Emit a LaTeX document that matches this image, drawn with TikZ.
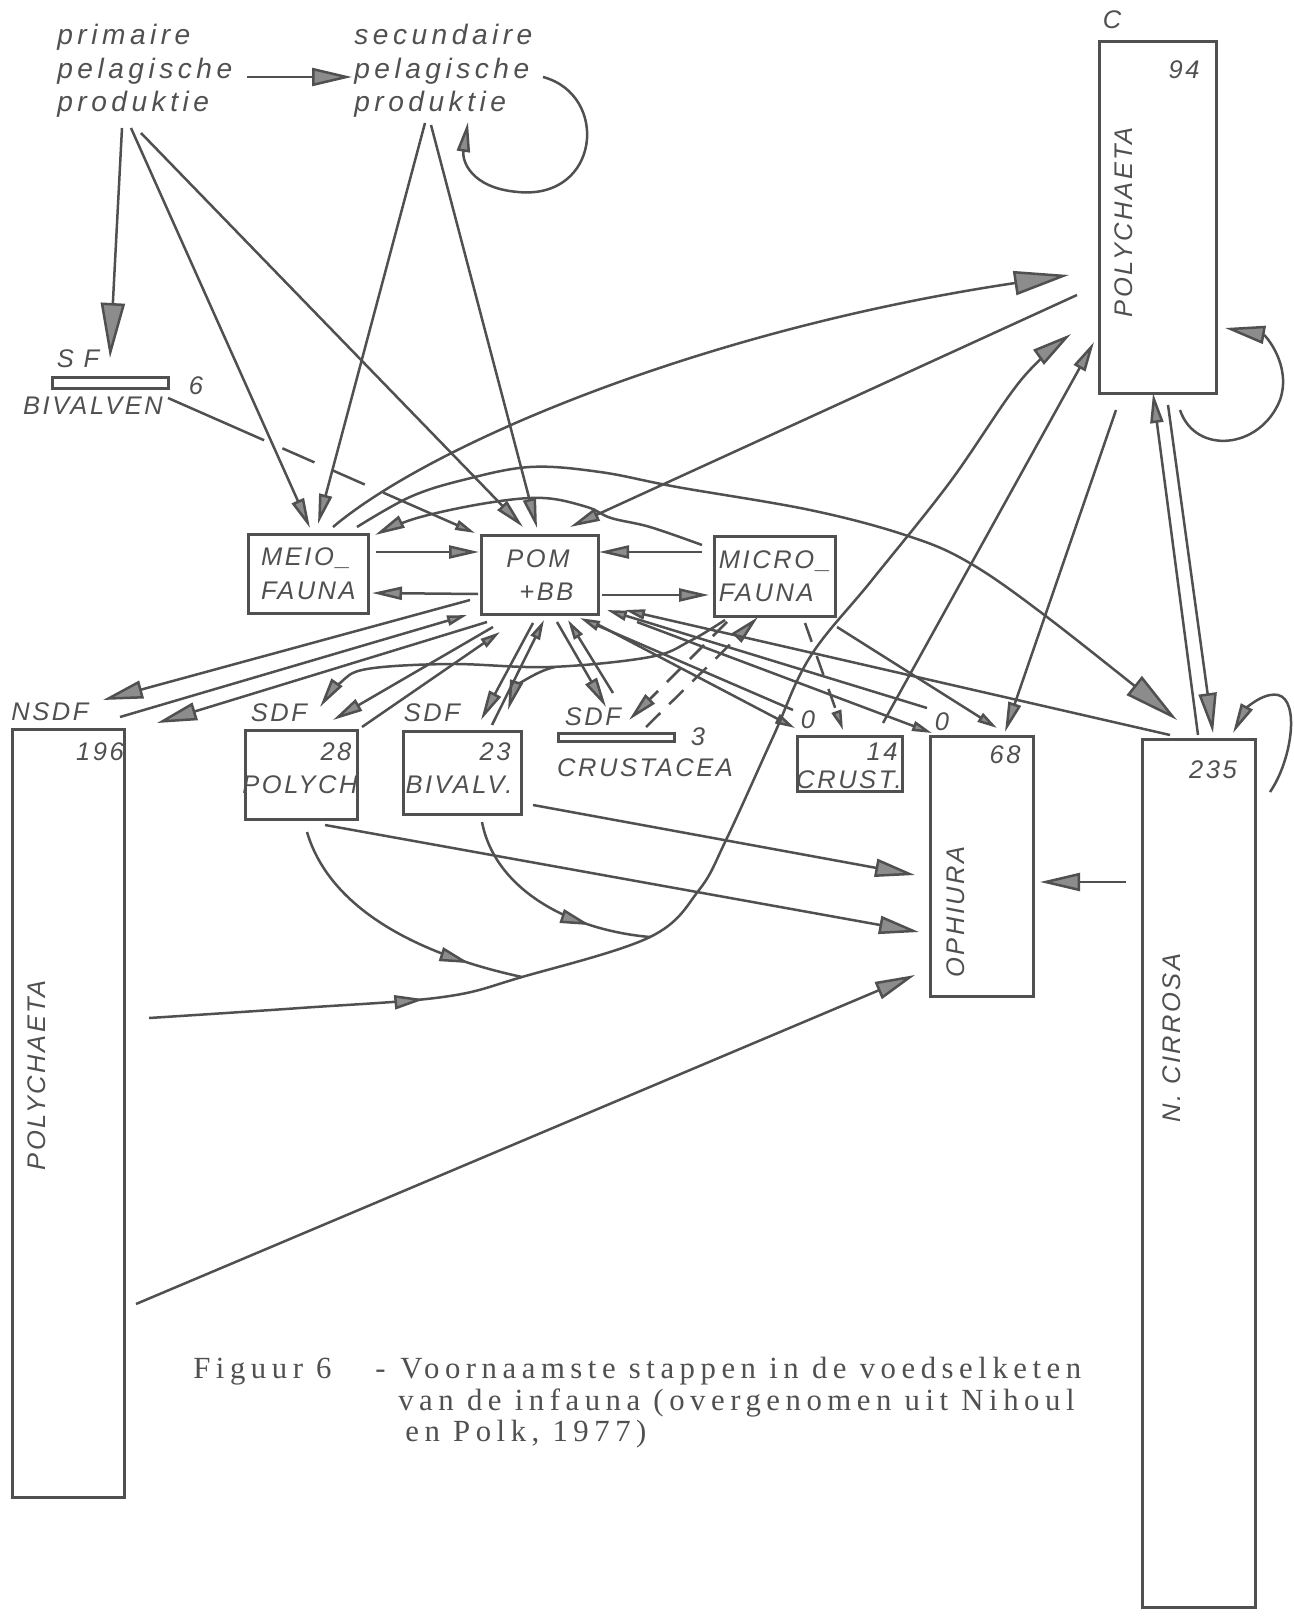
\documentclass[tikz,border=0pt]{standalone}
\usepackage{fontspec}
\newfontfamily\labfont{Liberation Sans}[LetterSpace=10]
\newfontfamily\lowfont{Liberation Sans}[LetterSpace=16]
\newfontfamily\capfont{Liberation Serif}[LetterSpace=18]
\usetikzlibrary{arrows.meta,decorations.markings}
\definecolor{ink}{RGB}{80,80,80}
\definecolor{headfill}{RGB}{140,140,140}
\tikzset{
  ln/.style={draw=ink, line width=0.5mm},
  arr/.style={ln, -{Triangle[length=6mm,width=2.6mm,fill=headfill]}},
  arrs/.style={ln, -{Triangle[length=4mm,width=2mm,fill=headfill]}},
  arrm/.style={ln, -{Triangle[length=8mm,width=3.6mm,fill=headfill]}},
  arrb/.style={ln, -{Triangle[length=11mm,width=4.8mm,fill=headfill]}},
  box/.style={draw=ink, line width=0.55mm, inner sep=0pt, anchor=north west},
  lab/.style={text=ink, inner sep=0pt, font=\labfont\itshape\fontsize{14.5}{19}\selectfont},
  low/.style={text=ink, inner sep=0pt, anchor=base west, font=\lowfont\itshape\fontsize{16}{19}\selectfont},
  captxt/.style={text=ink, inner sep=0pt, anchor=base west, font=\capfont\fontsize{17.5}{20}\selectfont},
  midarr/.style={postaction={decorate}, decoration={markings, mark=at position #1 with {\arrow{Triangle[length=6mm,width=2.8mm,fill=headfill]}}}},
}
\begin{document}
\begin{tikzpicture}[x=0.2mm,y=-0.2mm]
\fill[white] (0,0) rectangle (1294,1619);
\useasboundingbox (0,0) rectangle (1294,1619);

% ---------- top texts
\node[low] (p1) at (57,45) {primaire};
\node[low] (p2) at (57,79) {pelagische};
\node[low] (p3) at (57,112) {produktie};
\node[low] (s1) at (354,45) {secundaire};
\node[low] (s2) at (354,79) {pelagische};
\node[low] (s3) at (354,112) {produktie};

% ---------- boxes
\node[box, minimum width=23.2mm, minimum height=2.2mm] (sfbar) at (51,376) {};
\node[box, lab, align=left, minimum width=24mm, minimum height=15.8mm] (meio) at (247,533) {MEIO\_\\FAUNA};
\node[box, lab, align=left, minimum width=23.4mm, minimum height=15.8mm] (pom) at (480,534) {POM\\\hspace*{2.6mm}+BB};
\node[box, lab, align=left, minimum width=24.2mm, minimum height=16mm] (micro) at (713,535) {MICRO\_\\FAUNA};
\node[box, minimum width=23.4mm, minimum height=70.4mm] (cpoly) at (1098,40) {};
\node[box, minimum width=22.4mm, minimum height=153.6mm] (nsdf) at (11,728) {};
\node[box, minimum width=22.4mm, minimum height=17.8mm] (spoly) at (244,729) {};
\node[box, minimum width=23.6mm, minimum height=16.6mm] (sbiv) at (402,730) {};
\node[box, minimum width=23.2mm, minimum height=1.6mm] (scrus) at (557,732) {};
\node[box, minimum width=21mm, minimum height=11mm] (crust) at (796,735) {};
\node[box, minimum width=20.6mm, minimum height=52mm] (oph) at (929,735) {};
\node[box, minimum width=22.6mm, minimum height=173.6mm] (ncir) at (1141,738) {};

% ---------- labels
\node[lab] (cl) at (1112,20) {C};
\node[lab] (n94) at (1184,70) {94};
\node[lab, rotate=90] (cpt) at (1124,222) {POLYCHAETA};
\node[lab] (sfl) at (78,359) {S F};
\node[lab] (n6) at (196,386) {6};
\node[lab] (bivl) at (93,406) {BIVALVEN};
\node[lab] (nsdfl) at (50,712) {NSDF};
\node[lab] (n196) at (100,752) {196};
\node[lab, rotate=90] (npt) at (37,1075) {POLYCHAETA};
\node[lab] (sdf1) at (279,713) {SDF};
\node[lab] (n28) at (336,752) {28};
\node[lab] (polt) at (300,785) {POLYCH};
\node[lab] (sdf2) at (432,713) {SDF};
\node[lab] (n23) at (495,752) {23};
\node[lab] (bivt) at (459,785) {BIVALV.};
\node[lab] (sdf3) at (593,717) {SDF};
\node[lab] (n3) at (698,737) {3};
\node[lab] (crt) at (645,768) {CRUSTACEA};
\node[lab] (z1) at (808,720) {0};
\node[lab] (n14) at (882,752) {14};
\node[lab] (cst) at (849,780) {CRUST.};
\node[lab] (z2) at (942,722) {0};
\node[lab] (n68) at (1005,755) {68};
\node[lab, rotate=90] (opht) at (956,912) {OPHIURA};
\node[lab] (n235) at (1213,770) {235};
\node[lab, rotate=90] (ncirt) at (1172,1038) {N. CIRROSA};

% ---------- caption
\node[captxt] (fig) at (193,1378) {Figuur 6};
\node[captxt] (hy) at (375,1378) {-};
\node[captxt] (c1) at (400,1378) {Voornaamste stappen in de voedselketen};
\node[captxt] (c2) at (398,1410) {van de infauna (overgenomen uit Nihoul};
\node[captxt] (c3) at (405,1441) {en Polk, 1977)};

% ---------- junctions
\coordinate (j1) at (522,977);
\coordinate (j2) at (650,937);
\coordinate (br) at (555,667);

% ---------- top connectors
\draw[arrm] ([shift={(190,-2)}]p2.base west) -- ([shift={(-2,-2)}]s2.base west);
\draw[arr] ([shift={(189,-2)}]s2.base west) .. controls (610,95) and (600,200) .. (518,192) .. controls (470,188) and (462,160) .. ([shift={(114,10)}]s3.base west);
\draw[arrb] ([shift={(65,16)}]p3.base west) -- ([shift={(59,-18)}]sfbar.north west);
\draw[arr] ([shift={(74,16)}]p3.base west) -- ([shift={(63,-5)}]meio.north west);
\draw[arr] ([shift={(84,21)}]p3.base west) -- ([shift={(43,-7)}]pom.north west);
\draw[arr] ([shift={(71,11)}]s3.base west) -- ([shift={(71,-9)}]meio.north west);
\draw[arr] ([shift={(77,13)}]s3.base west) -- ([shift={(57,-6)}]pom.north west);
\draw[arrs, dash pattern=on 21mm off 4mm on 7mm off 4mm on 7mm off 4mm on 30mm] ([shift={(117,22)}]sfbar.north west) -- ([shift={(-5,-1)}]pom.north west);

% ---------- arcs around MEIO / POM / MICRO
\draw[arrb] ([shift={(86,-6)}]meio.north west) .. controls (430,445) and (700,330) .. ([shift={(-29,235)}]cpoly.north west);
\draw[arr] ([shift={(-21,255)}]cpoly.north west) -- ([shift={(90,-7)}]pom.north west);
\draw[arrb] plot[smooth, tension=0.6] coordinates {([shift={(110,-6)}]meio.north west) (410,497) (463,480) (530,467) (600,472) (677,487) (810,510) (905,535) (968,562) (1047,617) ([shift={(36,-18)}]ncir.north west)};
\draw[arr] plot[smooth, tension=0.6] coordinates {([shift={(-11,10)}]micro.north west) (650,527) (611,518) (587,507) (543,498) (487,503) (417,518) ([shift={(128,2)}]meio.north west)};
\draw[arr] ([shift={(129,19)}]meio.north west) -- ([shift={(-1,18)}]pom.north west);
\draw[arr] ([shift={(-2,60)}]pom.north west) -- ([shift={(125,60)}]meio.north west);
\draw[arr] ([shift={(-11,17)}]micro.north west) -- ([shift={(119,18)}]pom.north west);
\draw[arr] ([shift={(122,61)}]pom.north west) -- ([shift={(-4,60)}]micro.north west);

% ---------- fan to the left
\draw[arrm] ([shift={(-10,66)}]pom.north west) -- ([shift={(92,-28)}]nsdf.north west);
\draw[arrs] ([shift={(109,-11)}]nsdf.north west) -- ([shift={(-13,81)}]pom.north west);
\draw[arrm] ([shift={(7,88)}]pom.north west) -- ([shift={(146,-5)}]nsdf.north west);
\draw[arr] ([shift={(13,93)}]pom.north west) -- ([shift={(89,-9)}]spoly.north west);
\draw[arrs] ([shift={(118,-2)}]spoly.north west) -- ([shift={(20,98)}]pom.north west);
\draw[arr] plot[smooth, tension=0.6] coordinates {([shift={(12,85)}]micro.north west) (690,641) (650,657) (550,667) (450,664) (367,669) (340,683) ([shift={(76,-22)}]spoly.north west)};
\draw[arr] (br) .. controls (532,672) and (514,690) .. ([shift={(106,-20)}]sbiv.north west);
\draw[arr] ([shift={(53,89)}]pom.north west) -- ([shift={(79,-10)}]sbiv.north west);
\draw[arrs] ([shift={(90,-5)}]sbiv.north west) -- ([shift={(64,86)}]pom.north west);
\draw[arr] ([shift={(77,88)}]pom.north west) -- ([shift={(49,-25)}]scrus.north west);
\draw[arrs] ([shift={(56,-39)}]scrus.north west) -- ([shift={(88,86)}]pom.north west);
\draw[arr, dash pattern=on 4mm off 2.5mm] ([shift={(14,87)}]micro.north west) -- ([shift={(72,-12)}]scrus.north west);
\draw[arr, dash pattern=on 4mm off 2.5mm] ([shift={(89,-5)}]scrus.north west) -- ([shift={(45,82)}]micro.north west);
\draw[arrs, dash pattern=on 4mm off 3mm] ([shift={(92,88)}]micro.north west) -- ([shift={(47,-5)}]crust.north west);

% ---------- fan to the right
\draw[arrs] ([shift={(113,88)}]pom.north west) -- ([shift={(-1,-7)}]crust.north west);
\draw[arrs] ([shift={(-3,-25)}]crust.north west) -- ([shift={(100,84)}]pom.north west);
\draw[arrs] ([shift={(-2,-27)}]oph.north west) -- ([shift={(127,76)}]pom.north west);
\draw[arrs] ([shift={(157,88)}]pom.north west) -- ([shift={(3,-2)}]oph.north west);
\draw[arrs] ([shift={(29,-3)}]ncir.north west) -- ([shift={(145,76)}]pom.north west);
\draw[arrs] ([shift={(124,92)}]micro.north west) -- ([shift={(68,-7)}]oph.north west);

% ---------- lower part
\draw[arrm, midarr=0.22] plot[smooth, tension=0.6] coordinates {([shift={(138,290)}]nsdf.north west) (300,1008) (443,997) (j1) (j2) (699,890) (726,840) (773,737) (810,657) (872,580) (950,482) (1021,380) ([shift={(-27,294)}]cpoly.north west)};
\draw[ln, midarr=0.8] ([shift={(63,103)}]spoly.north west) .. controls (330,910) and (420,955) .. (j1);
\draw[ln, midarr=0.72] ([shift={(80,92)}]sbiv.north west) .. controls (495,890) and (570,930) .. (j2);
\draw[arrm] ([shift={(125,576)}]nsdf.north west) -- ([shift={(-14,240)}]oph.north west);
\draw[arrm] ([shift={(81,96)}]spoly.north west) -- ([shift={(-10,197)}]oph.north west);
\draw[arrm] ([shift={(131,75)}]sbiv.north west) -- ([shift={(-14,140)}]oph.north west);
\draw[arrm] ([shift={(-15,144)}]ncir.north west) -- ([shift={(111,147)}]oph.north west);

% ---------- right column
\draw[arr] ([shift={(18,370)}]cpoly.north west) -- ([shift={(76,-3)}]oph.north west);
\draw[arr] ([shift={(87,-12)}]crust.north west) -- ([shift={(-4,302)}]cpoly.north west);
\draw[arr] ([shift={(57,-3)}]ncir.north west) -- ([shift={(55,353)}]cpoly.north west);
\draw[arrm] ([shift={(70,365)}]cpoly.north west) -- ([shift={(72,-5)}]ncir.north west);
\draw[arrm] ([shift={(82,370)}]cpoly.north west) .. controls (1195,455) and (1260,450) .. (1280,400) .. controls (1292,365) and (1265,335) .. ([shift={(127,288)}]cpoly.north west);
\draw[arr] ([shift={(129,54)}]ncir.north west) .. controls (1292,760) and (1300,700) .. (1278,695) .. controls (1262,692) and (1245,710) .. ([shift={(92,-5)}]ncir.north west);
\end{tikzpicture}
\end{document}
